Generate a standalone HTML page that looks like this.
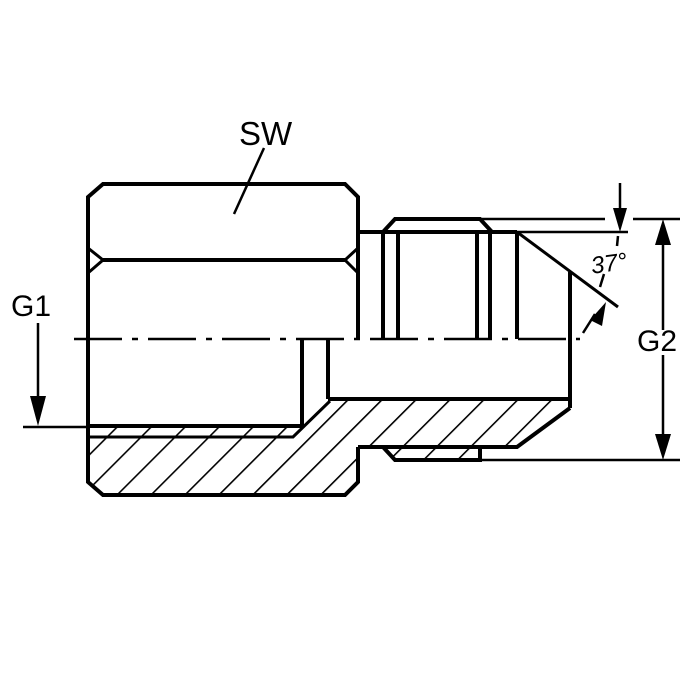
<!DOCTYPE html>
<html><head><style>html,body{margin:0;padding:0;background:#fff;}svg{display:block}</style></head>
<body>
<svg width="700" height="700" viewBox="0 0 700 700" xmlns="http://www.w3.org/2000/svg">
<defs>
<pattern id="h" patternUnits="userSpaceOnUse" width="24" height="24" patternTransform="rotate(45)">
<line x1="0" y1="0" x2="0" y2="24" stroke="#000" stroke-width="3.2"/>
</pattern>
<clipPath id="c"><polygon points="88,426 305,426 330,399 570,399 570,408 517,447 480,447 480,460 395,460 383,447 358,447 358,482 345,495 103,495 88,482"/></clipPath>
</defs>
<rect x="0" y="0" width="700" height="700" fill="url(#h)" clip-path="url(#c)"/>
<g fill="none" stroke="#000" stroke-width="4" stroke-linejoin="miter">
<polyline points="358,340 358,197 345,184 103,184 88,197 88,482 103,495 345,495 358,482 358,447"/>
<line x1="103" y1="260" x2="345" y2="260"/>
<polyline points="88,248 103,260 88,273" stroke-width="3"/>
<polyline points="358,248 345,260 358,273" stroke-width="3"/>
<line x1="88" y1="426" x2="302" y2="426"/>
<line x1="302" y1="339" x2="302" y2="426"/>
<line x1="328" y1="339" x2="328" y2="399"/>
<line x1="328" y1="399" x2="570" y2="399"/>
<polyline points="88,437 293,437 330,401" stroke-width="3"/>
<line x1="358" y1="232" x2="517" y2="232"/>
<polyline points="383,232 395,219 480,219 492,232"/>
<line x1="383" y1="232" x2="383" y2="339"/>
<line x1="398" y1="232" x2="398" y2="339"/>
<line x1="477" y1="232" x2="477" y2="339"/>
<line x1="490" y1="232" x2="490" y2="339"/>
<line x1="517" y1="232" x2="517" y2="339"/>
<line x1="517" y1="232" x2="618" y2="307" stroke-width="3"/>
<line x1="570" y1="272" x2="570" y2="408"/>
<polyline points="570,408 517,447 358,447"/>
<polyline points="383,447 395,460 480,460 480,447"/>
</g>
<g stroke="#000" stroke-width="2.5" fill="none">
<line x1="74" y1="339" x2="580" y2="339" stroke-dasharray="48,10,6,10"/>
<line x1="38" y1="323" x2="38" y2="400"/>
<line x1="23" y1="427" x2="88" y2="427"/>
<line x1="663" y1="245" x2="663" y2="330"/>
<line x1="663" y1="355" x2="663" y2="435"/>
<line x1="480" y1="219" x2="605" y2="219"/>
<line x1="633" y1="219" x2="680" y2="219"/>
<line x1="480" y1="460" x2="680" y2="460"/>
<line x1="517" y1="232" x2="628" y2="232"/>
<line x1="620" y1="183" x2="620" y2="212"/>
<line x1="618" y1="236" x2="617" y2="246"/>
<line x1="604" y1="274" x2="600" y2="287"/>
<line x1="583" y1="333" x2="595" y2="314"/>
<line x1="264" y1="148" x2="234" y2="214"/>
</g>
<g fill="#000">
<polygon points="30,396 46,396 38,426"/>
<polygon points="655,245 671,245 663,219"/>
<polygon points="655,434 671,434 663,460"/>
<polygon points="613,208 627,208 620,232"/>
<polygon points="590,320 602,326 606,302"/>
</g>
<g font-family="Liberation Sans, sans-serif" fill="#000">
<text x="239" y="145" font-size="33">SW</text>
<text x="11" y="316" font-size="30">G1</text>
<text x="637" y="351" font-size="30">G2</text>
<text x="591" y="272" font-size="24" font-style="italic" transform="rotate(-8 605 265)">37°</text>
</g>
</svg>
</body></html>
